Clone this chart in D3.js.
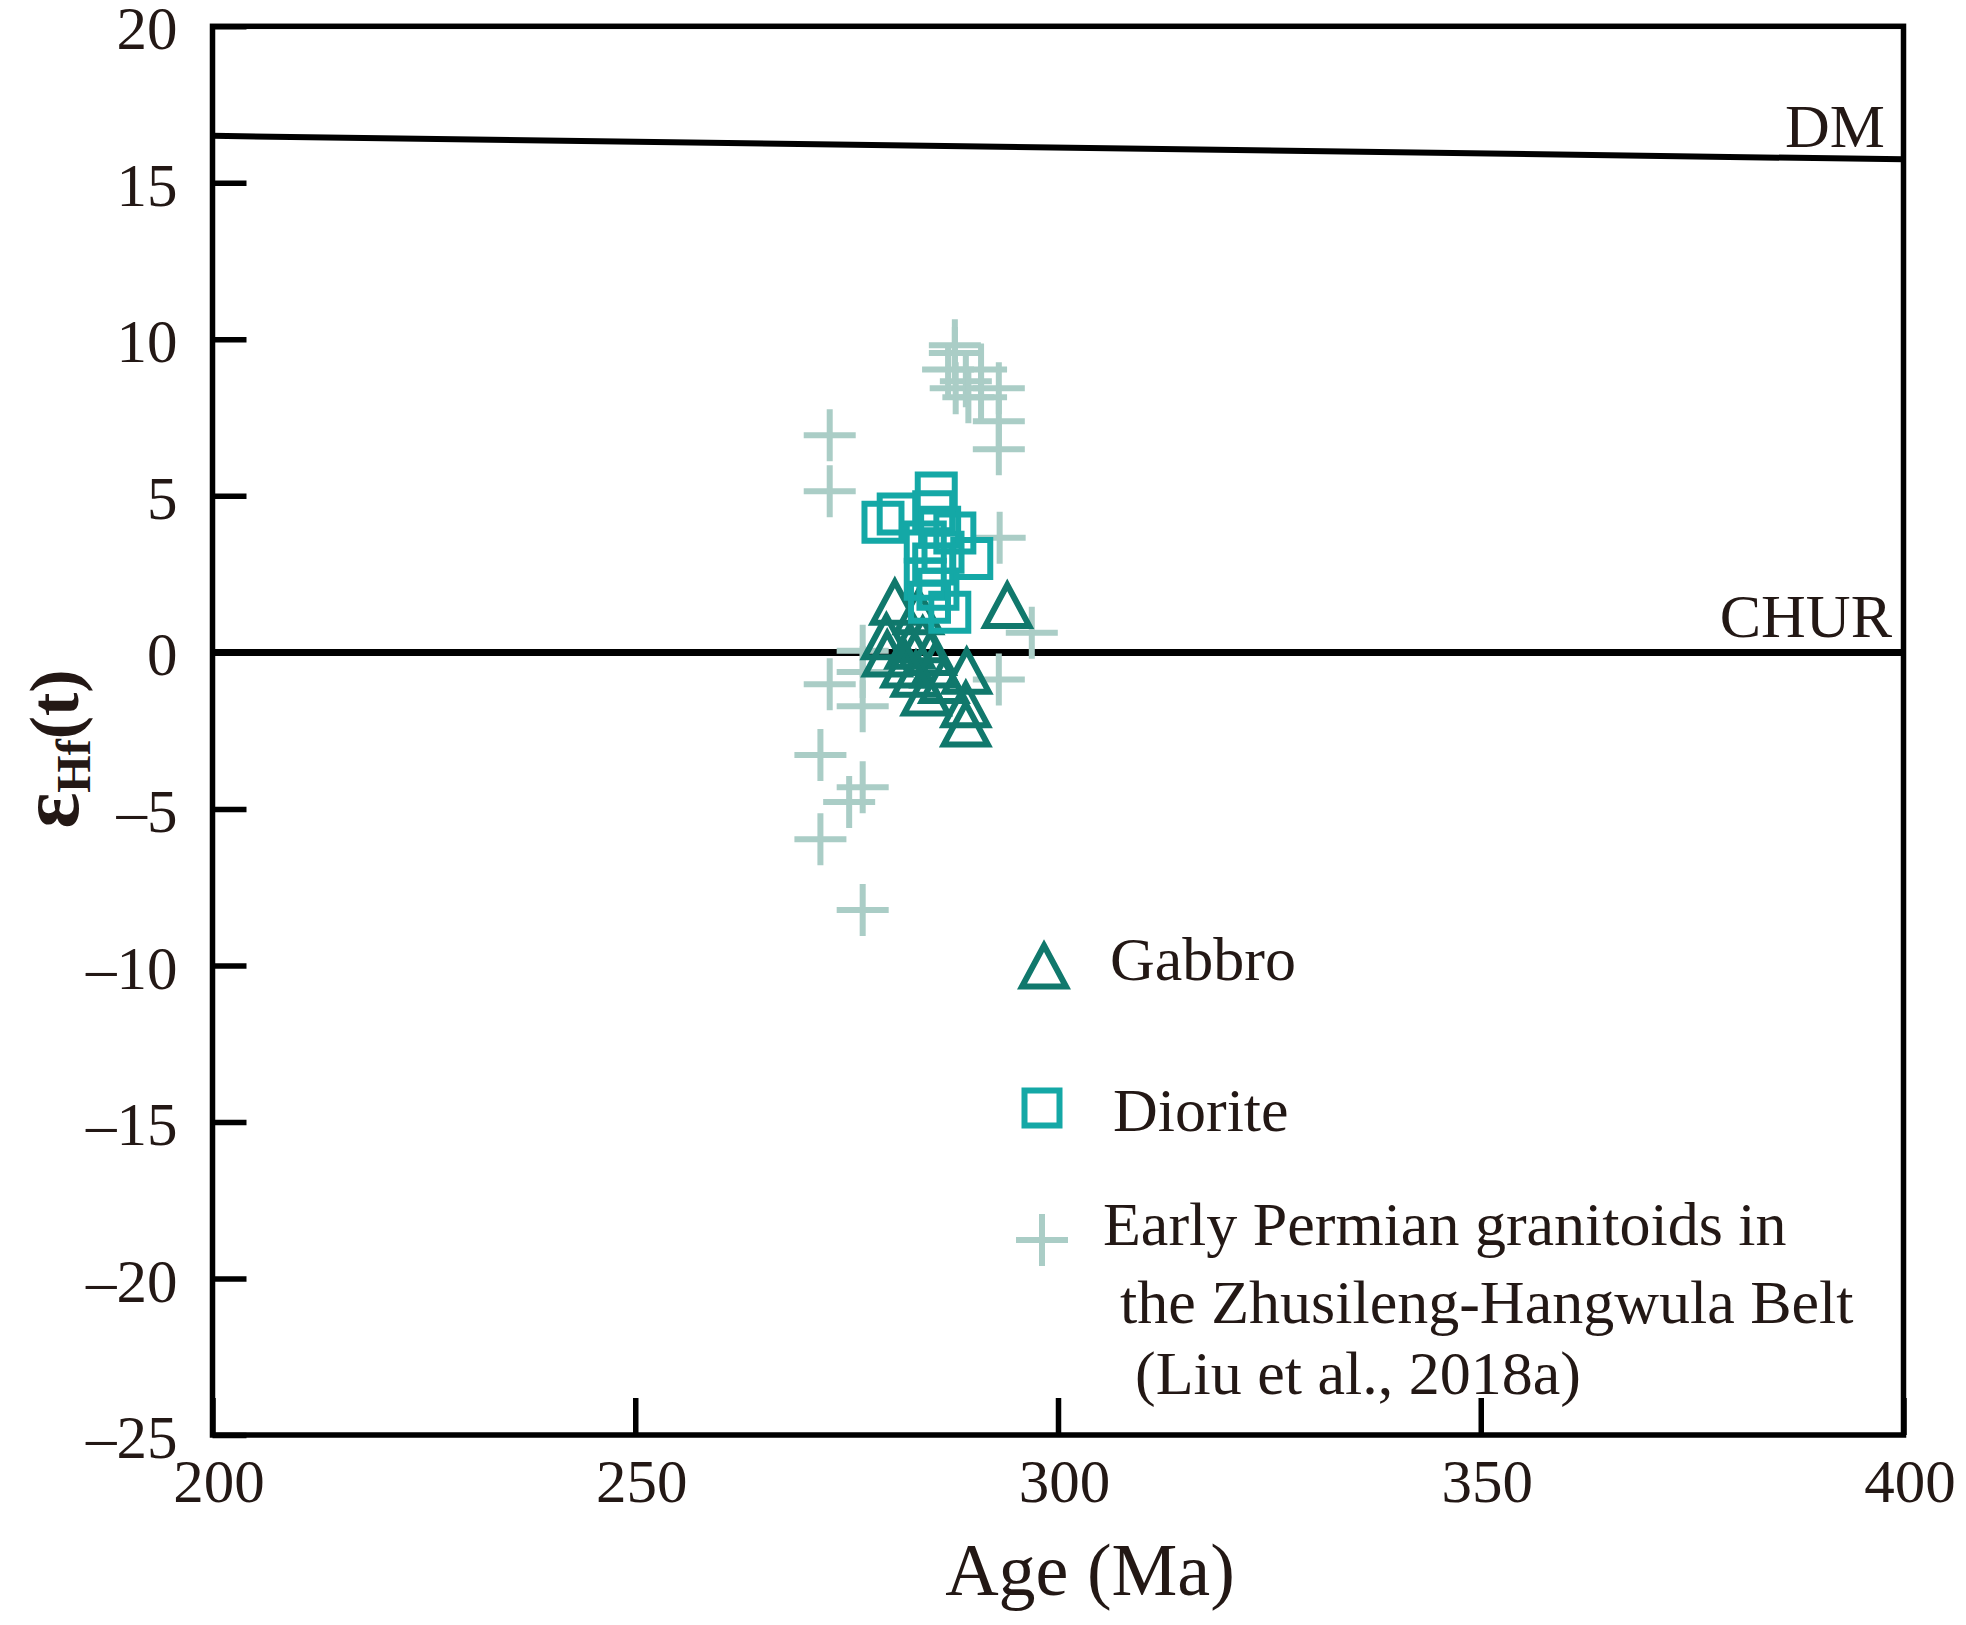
<!DOCTYPE html>
<html>
<head>
<meta charset="utf-8">
<script src="https://cdn.jsdelivr.net/npm/d3@7"></script>
<style>
html, body { margin: 0; padding: 0; background: #fff; }
svg { display: block; }
</style>
</head>
<body>
<svg id="chart" width="1966" height="1625"></svg>
<script>
// ---------- data ----------
const xTicks = [200, 250, 300, 350, 400];
const yTicks = [20, 15, 10, 5, 0, -5, -10, -15, -20, -25];

const dmAge = [200, 400];
const dmEps = [16.5, 15.75];
const churAge = [200, 400];
const churEps = [0, 0];

// Early Permian granitoids (Liu et al., 2018a)
const granAge = [287.8, 287.8, 287.0, 290.9, 289.1, 287.9, 293.0, 289.4, 290.9, 293.0, 293.0, 273.0, 273.0,
                 293.1, 296.9, 293.0, 276.9, 276.9, 276.9, 273.0, 271.9, 276.9, 275.3, 271.9, 276.9];
const granEps = [9.81, 9.56, 9.04, 9.04, 8.66, 8.44, 8.44, 8.15, 8.15, 7.38, 6.49, 6.94, 5.15,
                 3.66, 0.63, -0.87, 0.05, -0.63, -1.72, -1.02, -3.28, -4.31, -4.78, -5.97, -8.23];

// Gabbro
const gabbroAge = [294.0, 280.7, 283.5, 279.7, 279.8, 282.5, 284.0, 285.0, 283.2, 285.5, 289.2, 284.4, 286.5, 289.1, 289.1, 282.0];
const gabbroEps = [1.5, 1.6, 1.3, 0.5, -0.05, 0.2, 0.4, 0.0, -0.7, -0.4, -0.6, -1.3, -0.9, -1.67, -2.29, -0.4];

// Diorite
const dioriteAge = [285.6, 285.3, 279.3, 281.1, 287.8, 284.3, 289.8, 285.3, 284.3, 287.2, 285.8, 286.4, 286.0, 284.8];
const dioriteEps = [5.09, 4.49, 4.16, 4.42, 3.81, 3.53, 3.0, 2.82, 2.34, 1.28, 2.02, 3.2, 4.0, 1.6];

const legendLabels = ["Gabbro", "Diorite"];
const granLegendLines = ["Early Permian granitoids in", "the Zhusileng-Hangwula Belt", "(Liu et al., 2018a)"];

// ---------- style ----------
const TEXT = "#231815";
const C_GAB = "#10786c";
const C_DIO = "#14a8a6";
const C_GRA = "#aacdc6";
const FONT = "'Liberation Serif', 'Times New Roman', serif";

const svg = d3.select("#chart");
const L = 212.5, R = 1903.5, T = 26.3, B = 1435;
const x = d3.scaleLinear().domain([200, 400]).range([L, R]);
const y = d3.scaleLinear().domain([-25, 20]).range([B, T]);

// reference lines
const line = d3.line().x(d => x(d[0])).y(d => y(d[1]));
svg.append("path").attr("d", line(dmAge.map((a, i) => [a, dmEps[i]])))
  .attr("fill", "none").attr("stroke", "#000").attr("stroke-width", 6);
svg.append("path").attr("d", line(churAge.map((a, i) => [a, churEps[i]])))
  .attr("fill", "none").attr("stroke", "#000").attr("stroke-width", 7);

// markers
const plusPath = (s) => `M${-s},0H${s}M0,${-s}V${s}`;
const triPath = (w, h) => `M0,${-h/2}L${w},${h/2}L${-w},${h/2}Z`;
const sqPath = (s) => `M${-s},${-s}H${s}V${s}H${-s}Z`;

svg.append("g").selectAll("path").data(granAge.map((a, i) => [a, granEps[i]])).join("path")
  .attr("transform", d => `translate(${x(d[0])},${y(d[1])})`)
  .attr("d", plusPath(26)).attr("fill", "none").attr("stroke", C_GRA).attr("stroke-width", 6);

svg.append("g").selectAll("path").data(gabbroAge.map((a, i) => [a, gabbroEps[i]])).join("path")
  .attr("transform", d => `translate(${x(d[0])},${y(d[1])})`)
  .attr("d", triPath(22, 41)).attr("fill", "none").attr("stroke", C_GAB).attr("stroke-width", 6)
  .attr("stroke-linejoin", "miter");

svg.append("g").selectAll("path").data(dioriteAge.map((a, i) => [a, dioriteEps[i]])).join("path")
  .attr("transform", d => `translate(${x(d[0])},${y(d[1])})`)
  .attr("d", sqPath(18.5)).attr("fill", "none").attr("stroke", C_DIO).attr("stroke-width", 6);

// frame
svg.append("rect").attr("x", L).attr("y", T).attr("width", R - L).attr("height", B - T)
  .attr("fill", "none").attr("stroke", "#000").attr("stroke-width", 5.5);

// axes
const fmt = d => d < 0 ? "\u2013" + (-d) : String(d);
const yAxis = svg.append("g").attr("transform", `translate(${L},0)`)
  .call(d3.axisLeft(y).tickValues(yTicks).tickFormat(fmt).tickSizeInner(-34).tickSizeOuter(0).tickPadding(35));
const xAxis = svg.append("g").attr("transform", `translate(0,${B})`)
  .call(d3.axisBottom(x).tickValues(xTicks).tickFormat(fmt).tickSizeInner(-37).tickSizeOuter(0).tickPadding(24));
[yAxis, xAxis].forEach(g => {
  g.select(".domain").remove();
  g.selectAll(".tick line").attr("stroke", "#000").attr("stroke-width", 5.5);
  g.selectAll(".tick text").attr("fill", TEXT).style("font-family", FONT).style("font-size", "61px");
});
yAxis.selectAll(".tick text").attr("dy", "0.37em");
xAxis.selectAll(".tick text").attr("dx", "6");

// axis titles
svg.append("text").attr("x", 1090).attr("y", 1595).attr("text-anchor", "middle")
  .attr("fill", TEXT).style("font-family", FONT).style("font-size", "74px").text("Age (Ma)");

const yl = svg.append("text").attr("transform", "translate(78,749) rotate(-90)")
  .attr("text-anchor", "middle").attr("fill", TEXT)
  .style("font-family", FONT).style("font-weight", "bold").style("font-size", "70px");
yl.append("tspan").text("\u03b5").style("font-size", "84px");
yl.append("tspan").text("Hf").attr("dy", "12").style("font-size", "48px");
yl.append("tspan").text("(t)").attr("dy", "-12");

// line labels
svg.append("text").attr("x", 1885).attr("y", 147).attr("text-anchor", "end").attr("fill", TEXT)
  .style("font-family", FONT).style("font-size", "62px").text("DM");
svg.append("text").attr("x", 1892).attr("y", 637).attr("text-anchor", "end").attr("fill", TEXT)
  .style("font-family", FONT).style("font-size", "62px").text("CHUR");

// legend
const lg = svg.append("g");
lg.append("path").attr("transform", "translate(1044,966)").attr("d", triPath(22, 41))
  .attr("fill", "none").attr("stroke", C_GAB).attr("stroke-width", 6);
lg.append("path").attr("transform", "translate(1042,1108)").attr("d", sqPath(17.5))
  .attr("fill", "none").attr("stroke", C_DIO).attr("stroke-width", 6);
lg.append("path").attr("transform", "translate(1042,1240)").attr("d", plusPath(26))
  .attr("fill", "none").attr("stroke", C_GRA).attr("stroke-width", 6);
const ltxt = (tx, ty, s) => lg.append("text").attr("x", tx).attr("y", ty).attr("fill", TEXT)
  .style("font-family", FONT).style("font-size", "62px").text(s);
ltxt(1110, 980, legendLabels[0]);
ltxt(1113, 1131, legendLabels[1]);
ltxt(1103, 1245, granLegendLines[0]);
ltxt(1120, 1323, granLegendLines[1]);
ltxt(1135, 1394, granLegendLines[2]);
</script>
</body>
</html>
